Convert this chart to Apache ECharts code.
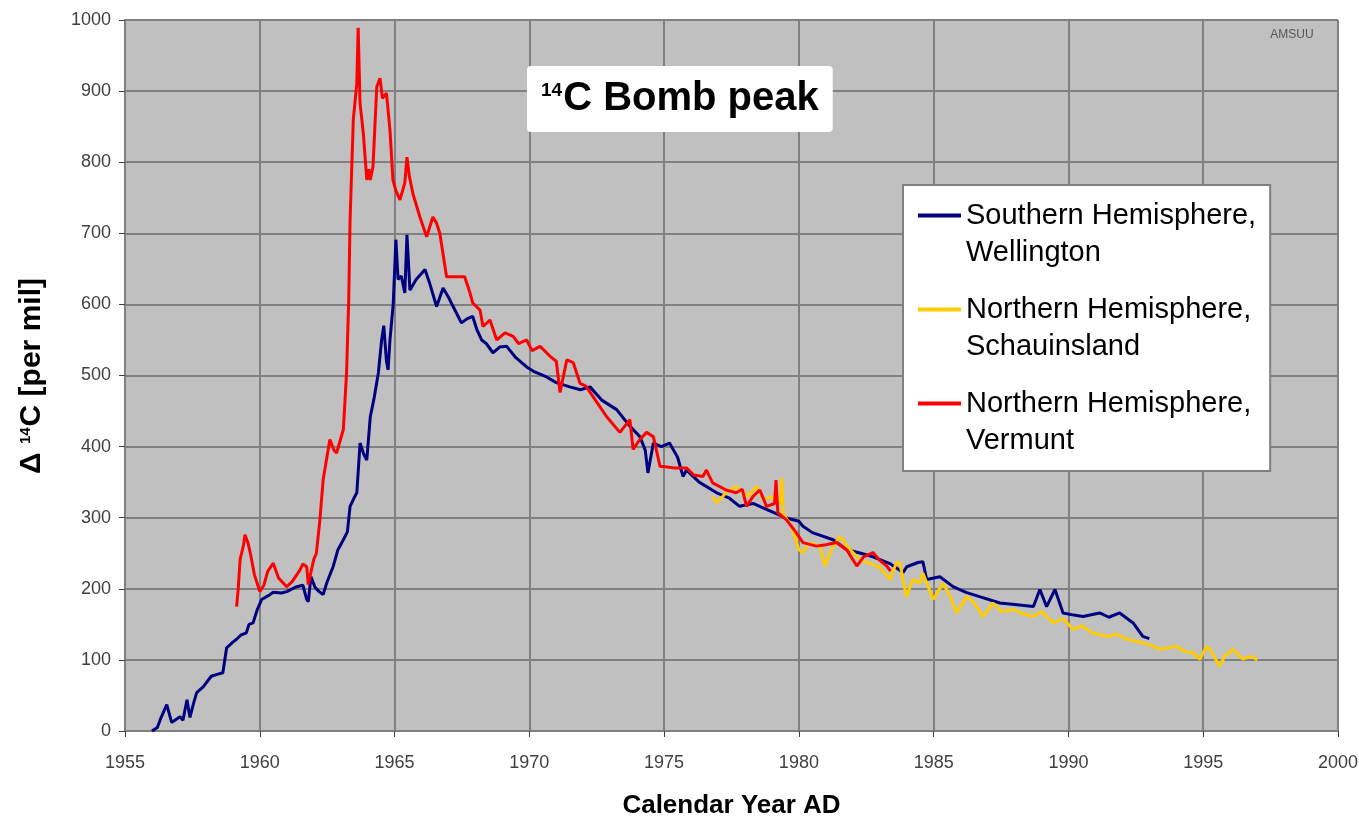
<!DOCTYPE html>
<html>
<head>
<meta charset="utf-8">
<title>14C Bomb peak</title>
<script src="https://cdn.jsdelivr.net/npm/echarts@6/dist/echarts.min.js"></script>
<style>
  html, body { margin: 0; padding: 0; background: #fff; }
  #chart { width: 1359px; height: 823px; }
</style>
</head>
<body>
<div id="chart"></div>
<script>
// axis ticks
var xTicks = { min: 1955, max: 2000, step: 5 };
var yTicks = { min: 0, max: 1000, step: 100 };

var seriesNames = [
  'Southern Hemisphere,\nWellington',
  'Northern Hemisphere,\nSchauinsland',
  'Northern Hemisphere,\nVermunt'
];
var seriesColors = ['#000080', '#ffcc00', '#ff0000'];

// [year, delta14C per mil]
var wellington = [
  [1956.0, 0], [1956.2, 5], [1956.35, 20], [1956.55, 37], [1956.73, 12], [1957.04, 20], [1957.15, 15],
  [1957.3, 44], [1957.41, 19], [1957.55, 40], [1957.66, 54], [1957.9, 62], [1958.2, 77], [1958.45, 80],
  [1958.63, 82], [1958.77, 117], [1959.0, 125], [1959.14, 129], [1959.3, 135], [1959.5, 138], [1959.6, 150],
  [1959.75, 152], [1959.9, 170], [1960.07, 185], [1960.3, 190], [1960.5, 195], [1960.8, 194], [1961.0, 196],
  [1961.2, 200], [1961.37, 203], [1961.6, 205], [1961.74, 185], [1961.8, 182], [1961.9, 217], [1962.05, 202],
  [1962.2, 196], [1962.35, 192], [1962.5, 210], [1962.72, 231], [1962.9, 255], [1963.1, 269], [1963.25, 280],
  [1963.35, 316], [1963.5, 328], [1963.6, 335], [1963.72, 405], [1963.85, 390], [1963.97, 381], [1964.1, 442],
  [1964.25, 470], [1964.4, 504], [1964.52, 550], [1964.6, 570], [1964.7, 520], [1964.76, 508], [1964.83, 550],
  [1964.95, 600], [1965.0, 602], [1965.05, 691], [1965.13, 635], [1965.25, 640], [1965.38, 616], [1965.46, 698],
  [1965.57, 620], [1965.8, 635], [1966.13, 649], [1966.3, 630], [1966.56, 597], [1966.8, 623], [1967.0, 610],
  [1967.2, 595], [1967.48, 574], [1967.7, 580], [1967.9, 583], [1968.05, 565], [1968.23, 550], [1968.4, 545],
  [1968.65, 532], [1968.9, 540], [1969.16, 541], [1969.5, 525], [1969.9, 512], [1970.2, 505], [1970.64, 498],
  [1971.0, 490], [1971.5, 484], [1971.9, 480], [1972.25, 484], [1972.7, 465], [1973.24, 452], [1973.7, 430],
  [1974.1, 414], [1974.3, 395], [1974.4, 363], [1974.6, 405], [1974.9, 400], [1975.2, 405], [1975.5, 385],
  [1975.7, 358], [1975.83, 367], [1976.3, 350], [1976.95, 335], [1977.4, 328], [1977.8, 316], [1978.3, 320],
  [1978.9, 310], [1979.5, 300], [1980.0, 295], [1980.15, 288], [1980.5, 279], [1981.27, 269], [1981.77, 255],
  [1982.3, 250], [1982.75, 245], [1983.4, 235], [1983.87, 223], [1984.0, 231], [1984.42, 237], [1984.6, 238],
  [1984.74, 213], [1985.23, 217], [1985.72, 203], [1986.2, 195], [1986.7, 189], [1987.46, 180], [1988.0, 178],
  [1988.7, 175], [1988.94, 199], [1989.19, 175], [1989.5, 199], [1989.8, 166], [1990.2, 163], [1990.54, 161],
  [1991.16, 166], [1991.5, 160], [1991.9, 166], [1992.4, 152], [1992.76, 133], [1993.0, 130]
];

var schauinsland = [
  [1976.8, 330], [1976.95, 321], [1977.3, 335], [1977.67, 344], [1977.8, 339], [1978.1, 330], [1978.43, 344],
  [1978.7, 325], [1979.0, 330], [1979.3, 320], [1979.36, 356], [1979.42, 305], [1979.7, 290], [1980.0, 255],
  [1980.15, 251], [1980.4, 265], [1980.78, 260], [1980.97, 232], [1981.2, 255], [1981.52, 274], [1981.9, 255],
  [1982.3, 240], [1982.7, 235], [1983.0, 230], [1983.38, 213], [1983.62, 237], [1983.74, 237], [1983.99, 189],
  [1984.23, 213], [1984.49, 208], [1984.6, 222], [1984.98, 185], [1985.35, 208], [1985.6, 190], [1985.85, 166],
  [1986.22, 189], [1986.5, 180], [1986.83, 161], [1987.2, 180], [1987.5, 168], [1987.94, 171], [1988.3, 165],
  [1988.7, 161], [1989.0, 168], [1989.43, 152], [1989.8, 158], [1990.17, 143], [1990.5, 148], [1990.9, 138],
  [1991.42, 133], [1991.8, 136], [1992.17, 129], [1992.76, 124], [1993.1, 120], [1993.4, 115], [1994.0, 119],
  [1994.3, 112], [1994.62, 110], [1994.87, 101], [1995.13, 119], [1995.3, 112], [1995.6, 91], [1995.8, 105],
  [1996.1, 115], [1996.47, 101], [1996.8, 105], [1997.0, 100]
];

var vermunt = [
  [1959.14, 175], [1959.2, 200], [1959.27, 241], [1959.4, 262], [1959.45, 276], [1959.56, 265], [1959.65, 250],
  [1959.8, 220], [1960.0, 196], [1960.15, 205], [1960.3, 225], [1960.5, 236], [1960.7, 215], [1961.0, 203],
  [1961.2, 210], [1961.5, 227], [1961.6, 235], [1961.74, 231], [1961.8, 206], [1962.0, 241], [1962.1, 250],
  [1962.23, 297], [1962.35, 353], [1962.6, 410], [1962.75, 395], [1962.85, 391], [1963.1, 424], [1963.22, 504],
  [1963.3, 607], [1963.35, 719], [1963.47, 860], [1963.6, 911], [1963.65, 989], [1963.72, 883], [1963.84, 841],
  [1963.97, 775], [1964.05, 790], [1964.1, 775], [1964.2, 794], [1964.34, 906], [1964.46, 918], [1964.55, 890],
  [1964.7, 897], [1964.83, 845], [1964.94, 775], [1965.05, 760], [1965.2, 747], [1965.38, 771], [1965.46, 807],
  [1965.55, 780], [1965.68, 756], [1965.94, 723], [1966.19, 695], [1966.42, 723], [1966.55, 715], [1966.68, 700],
  [1966.93, 639], [1967.3, 639], [1967.6, 639], [1967.8, 616], [1967.9, 602], [1968.17, 592], [1968.28, 569],
  [1968.54, 578], [1968.79, 550], [1969.1, 560], [1969.4, 555], [1969.6, 545], [1969.9, 550], [1970.1, 535],
  [1970.4, 541], [1970.77, 527], [1971.0, 520], [1971.14, 476], [1971.39, 522], [1971.63, 518], [1971.88, 489],
  [1972.1, 485], [1972.37, 470], [1972.87, 442], [1973.36, 420], [1973.73, 438], [1973.85, 396], [1974.1, 410],
  [1974.35, 420], [1974.6, 414], [1974.85, 372], [1974.97, 372], [1975.4, 370], [1975.83, 370], [1976.1, 360],
  [1976.44, 358], [1976.57, 367], [1976.8, 349], [1977.3, 339], [1977.67, 335], [1977.9, 340], [1978.06, 316],
  [1978.3, 330], [1978.55, 339], [1978.8, 316], [1979.1, 320], [1979.15, 353], [1979.22, 307], [1979.54, 297],
  [1979.9, 279], [1980.15, 265], [1980.65, 260], [1981.0, 262], [1981.4, 265], [1981.77, 255], [1982.15, 232],
  [1982.4, 245], [1982.75, 251], [1983.0, 240], [1983.26, 232], [1983.4, 225]
];

var FONT = '"Liberation Sans", Arial, sans-serif';
var gridColor = '#808080';

var chart = echarts.init(document.getElementById('chart'));

// legend icon: short bar at the height of the first text line
var legendIcon = 'path://M0,0h0.05v0.05h-0.05z M0,16.5h43v4h-43z M0,73.95h0.05v0.05h-0.05z';

function makeSeries(name, data, color) {
  return {
    name: name,
    type: 'line',
    data: data,
    showSymbol: false,
    symbol: 'none',
    smooth: false,
    lineStyle: { color: color, width: 3 },
    itemStyle: { color: color },
    emphasis: { disabled: true },
    animation: false
  };
}

function plainNumber(v) {
  return String(v);
}

var option = {
  backgroundColor: '#fff',
  animation: false,
  textStyle: { fontFamily: FONT },
  title: {
    text: '{s|14}{b|C Bomb peak}',
    left: 527,
    top: 65,
    backgroundColor: '#fff',
    borderRadius: 4,
    padding: [13, 14, 13, 14],
    textStyle: {
      rich: {
        s: { fontSize: 19, fontWeight: 'bold', fontFamily: FONT, color: '#000', padding: [0, 1, 16, 0] },
        b: { fontSize: 40, fontWeight: 'bold', fontFamily: FONT, color: '#000', lineHeight: 42 }
      }
    }
  },
  legend: {
    orient: 'vertical',
    left: 903,
    top: 185,
    backgroundColor: '#fff',
    borderColor: gridColor,
    borderWidth: 2,
    padding: [12, 14, 12, 15],
    itemGap: 20,
    itemWidth: 43,
    itemHeight: 74,
    icon: legendIcon,
    selectedMode: false,
    data: seriesNames,
    textStyle: { fontSize: 29, lineHeight: 37, color: '#000', fontFamily: FONT }
  },
  grid: {
    left: 125,
    right: 21,
    top: 20,
    bottom: 92,
    outerBoundsMode: 'none',
    show: true,
    backgroundColor: '#c0c0c0',
    borderColor: gridColor,
    borderWidth: 1
  },
  xAxis: {
    type: 'value',
    min: xTicks.min,
    max: xTicks.max,
    interval: xTicks.step,
    name: 'Calendar Year AD',
    nameLocation: 'middle',
    nameGap: 62,
    nameTextStyle: { fontSize: 26, fontWeight: 'bold', color: '#000', fontFamily: FONT },
    axisLine: { show: true, lineStyle: { color: gridColor, width: 2 } },
    axisTick: { show: true, length: 6, lineStyle: { color: '#404040' } },
    axisLabel: { fontSize: 18, color: '#404040', margin: 23, fontFamily: FONT, formatter: plainNumber },
    splitLine: { show: true, lineStyle: { color: gridColor, width: 2 } }
  },
  yAxis: {
    type: 'value',
    min: yTicks.min,
    max: yTicks.max,
    interval: yTicks.step,
    axisLine: { show: true, lineStyle: { color: gridColor, width: 2 } },
    axisTick: { show: true, length: 6, lineStyle: { color: '#404040' } },
    axisLabel: { fontSize: 18, color: '#404040', margin: 14, fontFamily: FONT, formatter: plainNumber },
    splitLine: { show: true, lineStyle: { color: gridColor, width: 2 } }
  },
  graphic: [
    {
      type: 'text',
      x: 32,
      y: 376,
      rotation: Math.PI / 2,
      style: {
        text: '{d|Δ }{s|14}{d|C [per mil]}',
        align: 'center',
        verticalAlign: 'middle',
        rich: {
          d: { fontSize: 30, fontWeight: 'bold', fontFamily: FONT, fill: '#000' },
          s: { fontSize: 15, fontWeight: 'bold', fontFamily: FONT, fill: '#000', padding: [0, 1, 13, 0] }
        }
      }
    },
    {
      type: 'text',
      x: 1292,
      y: 35,
      style: {
        text: 'AMSUU',
        align: 'center',
        verticalAlign: 'middle',
        fontSize: 12,
        fontFamily: FONT,
        fill: '#555'
      }
    }
  ],
  series: [
    makeSeries(seriesNames[0], wellington, seriesColors[0]),
    makeSeries(seriesNames[1], schauinsland, seriesColors[1]),
    makeSeries(seriesNames[2], vermunt, seriesColors[2])
  ]
};

chart.setOption(option);
</script>
</body>
</html>
